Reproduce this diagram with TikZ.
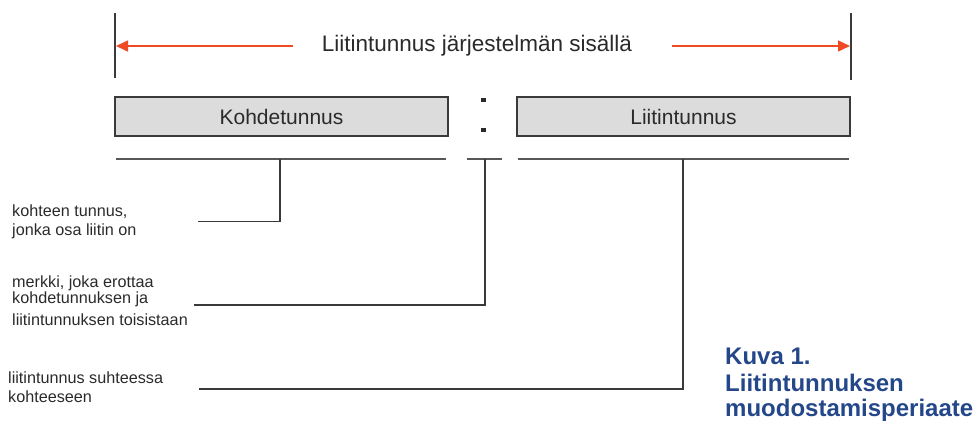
\documentclass[tikz,border=0pt]{standalone}
\usepackage{fontspec}
\setmainfont{Liberation Sans}
\usetikzlibrary{arrows.meta}
\definecolor{linegray}{HTML}{3A3A3A}
\definecolor{boxfill}{HTML}{DCDCDC}
\definecolor{arrowred}{HTML}{EE4B24}
\definecolor{capblue}{HTML}{24478A}
\definecolor{txt}{HTML}{2A2A2A}
\tikzset{
  idbox/.style={draw=linegray, line width=1.8pt, fill=boxfill, minimum width=333pt, minimum height=39pt, inner sep=0pt, text=txt, font=\fontsize{21}{25}\selectfont},
  lbl/.style={anchor=west, inner sep=0pt, text=txt, font=\fontsize{16.2}{19}\selectfont},
  conn/.style={draw=linegray, line width=1.6pt},
  uline/.style={draw=linegray!85, line width=2pt},
  redarrow/.style={draw=arrowred, line width=1.5pt, -{Triangle[length=12pt,width=11pt,fill=arrowred]}},
  captext/.style={anchor=west, inner sep=0pt, text=capblue, font=\fontsize{24}{28}\bfseries\selectfont}
}
\begin{document}
\begin{tikzpicture}[x=1pt,y=-1pt]
\useasboundingbox (0,0) rectangle (977,429);
% boundary lines
\coordinate (ltop) at (115,13);
\coordinate (lbot) at (115,78);
\coordinate (rtop) at (851,13);
\coordinate (rbot) at (851,80);
\draw[draw=linegray, line width=1.5pt] (ltop) -- (lbot);
\draw[draw=linegray, line width=1.5pt] (rtop) -- (rbot);
% title and arrows
\node[inner sep=0pt, text=txt, font=\fontsize{22.5}{26}\selectfont] (title) at (477,46) {Liitintunnus järjestelmän sisällä};
\coordinate (alstart) at (293,46);
\coordinate (alend) at (116,46);
\coordinate (arstart) at (672,46);
\coordinate (arend) at (850,46);
\draw[redarrow] (alstart) -- (alend);
\draw[redarrow] (arstart) -- (arend);
% boxes
\node[idbox] (kohde) at (281.5,116.5) {Kohdetunnus};
\node[idbox] (liitin) at (683.5,116.5) {Liitintunnus};
% colon
\fill[txt] (481,97.5) rectangle (485.5,102) coordinate (dot1);
\fill[txt] (481,127.5) rectangle (485.5,132) coordinate (dot2);
% underlines
\coordinate (u1a) at (116,159);
\coordinate (u1b) at (446,159);
\coordinate (u2a) at (467,159);
\coordinate (u2b) at (502,159);
\coordinate (u3a) at (518,159);
\coordinate (u3b) at (849,159);
\draw[uline] (u1a) -- (u1b);
\draw[uline] (u2a) -- (u2b);
\draw[uline] (u3a) -- (u3b);
% connector points
\coordinate (c1top) at (280,159);
\coordinate (c1end) at (198,221.5);
\coordinate (c2top) at (485,159);
\coordinate (c2end) at (194,305);
\coordinate (c3top) at (683,159);
\coordinate (c3end) at (199,389);
\draw[conn] (c1top) |- (c1end);
\draw[conn] (c2top) |- (c2end);
\draw[conn] (c3top) |- (c3end);
% labels
\node[lbl] (l1a) at (12,212) {kohteen tunnus,};
\node[lbl] (l1b) at (12,231.5) {jonka osa liitin on};
\node[lbl] (l2a) at (12,283) {merkki, joka erottaa};
\node[lbl] (l2b) at (12,299.5) {kohdetunnuksen ja};
\node[lbl] (l2c) at (12,319.5) {liitintunnuksen toisistaan};
\node[lbl] (l3a) at (8,378) {liitintunnus suhteessa};
\node[lbl] (l3b) at (8,396.5) {kohteeseen};
% caption
\node[captext] (cap1) at (725,356) {Kuva 1.};
\node[captext] (cap2) at (725,383) {Liitintunnuksen};
\node[captext] (cap3) at (725,410) {muodostamisperiaate};
\end{tikzpicture}
\end{document}
